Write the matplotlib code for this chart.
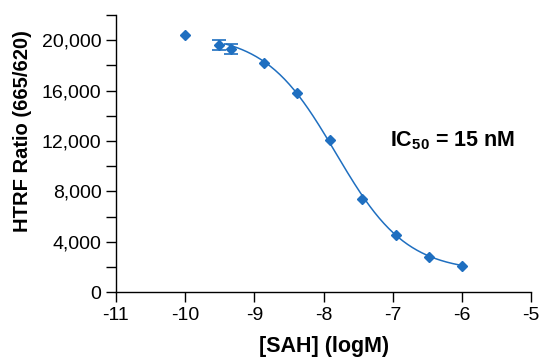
import matplotlib

matplotlib.use("Agg")
import matplotlib.pyplot as plt
import numpy as np
from matplotlib.ticker import FuncFormatter, MultipleLocator

# data
log_conc = [-10.0, -9.51, -9.34, -8.86, -8.38, -7.90, -7.44, -6.96, -6.48, -6.00]
htrf = [20400, 19650, 19280, 18170, 15790, 12050, 7380, 4520, 2780, 2080]
htrf_err = [0, 400, 400, 0, 0, 0, 0, 0, 0, 0]

# 4PL fit parameters (IC50 = 15 nM)
fit_top = 20500
fit_bottom = 1600
fit_log_ic50 = np.log10(15e-9)
fit_hill = 0.85
fit_range = (-9.4, -6.0)

blue = "#1f6fc0"

plt.rcParams["font.family"] = ["Liberation Sans", "DejaVu Sans"]
plt.rcParams["axes.unicode_minus"] = False
plt.rcParams["mathtext.fontset"] = "custom"
plt.rcParams["mathtext.rm"] = "Liberation Sans"
plt.rcParams["mathtext.bf"] = "Liberation Sans:bold"

fig = plt.figure(figsize=(5.42, 3.58), dpi=100)
ax = fig.add_axes([0.214, 0.184, 0.766, 0.774])

xs = np.linspace(*fit_range, 200)
ys = fit_bottom + (fit_top - fit_bottom) / (1 + 10 ** ((xs - fit_log_ic50) * fit_hill))
ax.plot(xs, ys, color=blue, lw=1.1)

ax.errorbar(log_conc, htrf, yerr=[e if e else np.nan for e in htrf_err],
            fmt="D", ms=5.5, color=blue, ecolor=blue, elinewidth=1.2,
            capsize=5, capthick=1.2, zorder=3)

ax.set_xlim(-11, -5)
ax.set_ylim(0, 22000)
ax.xaxis.set_major_locator(MultipleLocator(1))
ax.yaxis.set_major_locator(MultipleLocator(4000))
ax.yaxis.set_minor_locator(MultipleLocator(2000))
ax.yaxis.set_major_formatter(FuncFormatter(lambda v, _: f"{int(v):,}"))
ax.xaxis.set_major_formatter(FuncFormatter(lambda v, _: f"{int(round(v))}"))

for side in ("top", "right"):
    ax.spines[side].set_visible(False)
for side in ("left", "bottom"):
    ax.spines[side].set_linewidth(1.0)
ax.tick_params(which="both", direction="out", length=7, width=1.0, labelsize=14)

ax.set_xlabel("[SAH] (logM)", fontsize=15.5, fontweight="bold", labelpad=9)
ax.set_ylabel("HTRF Ratio (665/620)", fontsize=14.5, fontweight="bold")
ax.yaxis.set_label_coords(-0.203, 0.58)

ax.text(-6.14, 12000, r"$\mathbf{IC_{50}}$ = 15 nM", fontsize=15.5, fontweight="bold",
        ha="center", va="center")

fig.savefig("out.png", dpi=100)
